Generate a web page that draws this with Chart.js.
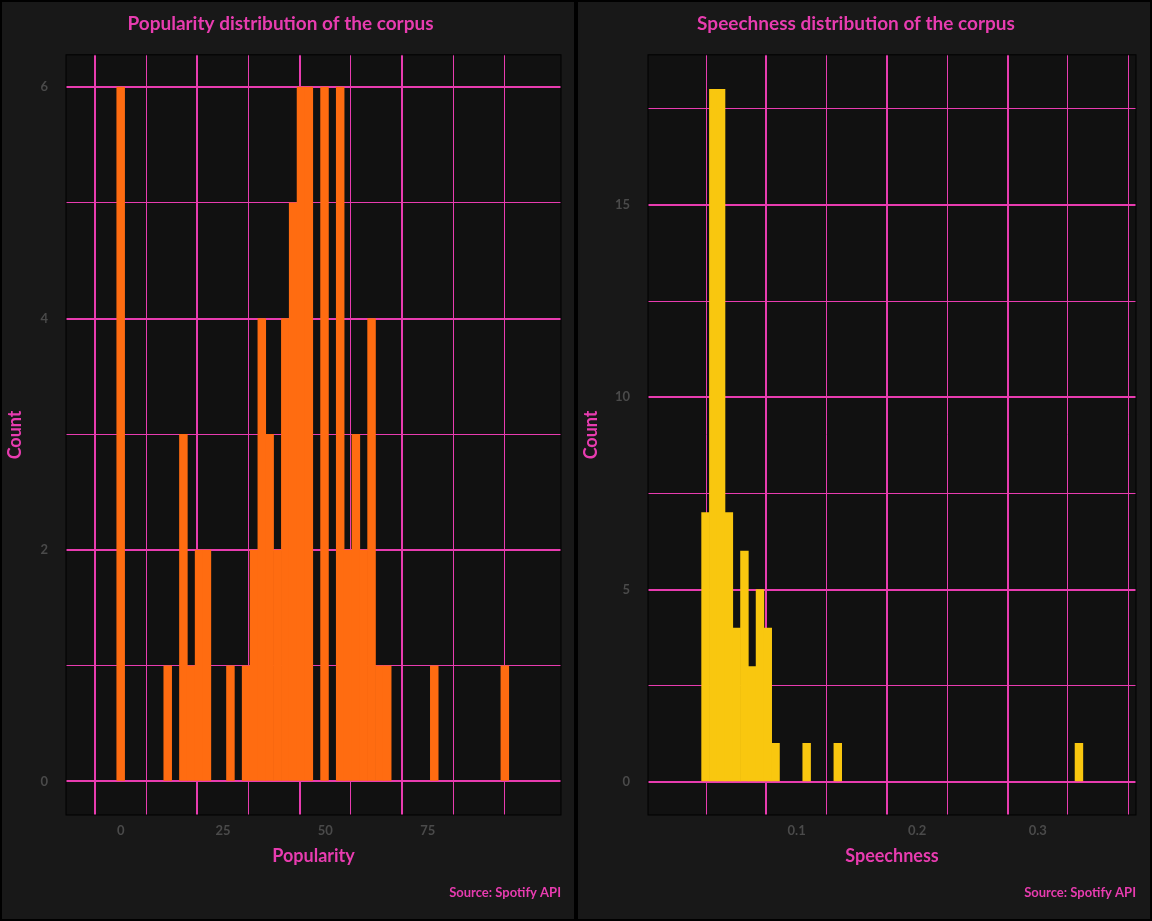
<!DOCTYPE html>
<html>
<head>
<meta charset="utf-8">
<script src="https://cdn.jsdelivr.net/npm/chart.js@4"></script>
<style>
  body { margin: 0; background: #181818; }
  .wrap { display: flex; width: 1152px; height: 921px; }
  .cell { width: 576px; height: 921px; position: relative; }
</style>
</head>
<body>
<div class="wrap">
  <div class="cell"><canvas id="chart-pop" width="576" height="921"></canvas></div>
  <div class="cell"><canvas id="chart-speech" width="576" height="921"></canvas></div>
</div>
<script>
// popularity histogram: bin index -> count (bin width ~1.915, first bin centred on 0)
const popBinWidth = 1.915;
const popBins = [0, 6, 8, 9, 10, 11, 14, 16, 17, 18, 19, 20, 21, 22, 23, 24, 26, 28, 29, 30, 31, 32, 33, 34, 40, 49];
const popCounts = [6, 1, 3, 1, 2, 2, 1, 1, 2, 4, 3, 2, 4, 5, 6, 6, 6, 6, 2, 3, 2, 4, 1, 1, 1, 1];

// speechiness histogram
const spStart = 0.0245;
const spBinWidth = 0.00645;
const spBins = [0, 1, 2, 3, 4, 5, 6, 7, 8, 9, 13, 17, 48];
const spCounts = [7, 18, 18, 7, 4, 6, 3, 5, 4, 1, 1, 1, 1];

const PINK = "#e83cb0";
const GRAY = "#4a4a4a";
const FONT = "Lato";

const frame = {
    id: "frame",
    beforeDraw(chart) {
        const { ctx, chartArea: a } = chart;
        ctx.save();
        ctx.fillStyle = "#181818";
        ctx.fillRect(0, 0, chart.width, chart.height);
        ctx.strokeStyle = "#000";
        ctx.lineWidth = 2;
        ctx.strokeRect(1, 1, chart.width - 2, chart.height - 2);
        ctx.fillStyle = "#111111";
        ctx.fillRect(a.left, a.top, a.right - a.left, a.bottom - a.top);
        ctx.restore();
    },
    afterDraw(chart) {
        const { ctx, chartArea: a } = chart;
        ctx.save();
        ctx.strokeStyle = "#000";
        ctx.lineWidth = 1;
        ctx.strokeRect(a.left, a.top, a.right - a.left, a.bottom - a.top);
        ctx.fillStyle = PINK;
        ctx.font = "bold 13px " + FONT;
        ctx.textAlign = "right";
        ctx.textBaseline = "middle";
        ctx.fillText("Source: Spotify API", a.right, 893);
        ctx.restore();
    },
};

function ticksOf(values) {
    return (scale) => { scale.ticks = values.map((v) => ({ value: v })); };
}

function makeChart(id, opts) {
    new Chart(document.getElementById(id), {
        type: "bar",
        data: {
            datasets: [{
                data: opts.points,
                backgroundColor: opts.color,
                barPercentage: 1,
                categoryPercentage: 1,
                grouped: false,
            }],
        },
        options: {
            responsive: false,
            animation: false,
            devicePixelRatio: 1,
            layout: { padding: { left: 0, right: opts.padRight, top: 0, bottom: 50 } },
            plugins: {
                legend: { display: false },
                tooltip: { enabled: false },
                title: {
                    display: true,
                    text: opts.title,
                    color: PINK,
                    font: { family: FONT, size: 19, weight: "bold" },
                    padding: { top: 12, bottom: 20 },
                },
            },
            scales: {
                x: {
                    type: "linear",
                    min: opts.xMin, max: opts.xMax,
                    afterBuildTicks: ticksOf(opts.xTicks),
                    afterFit: (s) => { s.height = 56; },
                    border: { display: false },
                    grid: {
                        color: PINK,
                        drawTicks: false,
                        lineWidth: (c) => (c.tick && opts.xMajor(c.tick.value) ? 2 : 1),
                    },
                    ticks: {
                        color: GRAY,
                        padding: 8,
                        autoSkip: false,
                        maxRotation: 0,
                        font: { family: FONT, size: 13, weight: "bold" },
                        callback: (v) => (opts.xMajor(v) ? opts.xFmt(v) : ""),
                    },
                    title: {
                        display: true,
                        text: opts.xTitle,
                        color: PINK,
                        font: { family: FONT, size: 18, weight: "bold" },
                        padding: { top: 4 },
                    },
                },
                y: {
                    min: opts.yMin, max: opts.yMax,
                    afterBuildTicks: ticksOf(opts.yTicks),
                    afterFit: (s) => { s.width = opts.yWidth; },
                    border: { display: false },
                    grid: {
                        color: PINK,
                        drawTicks: false,
                        lineWidth: (c) => (c.tick && opts.yMajor(c.tick.value) ? 2 : 1),
                    },
                    ticks: {
                        color: GRAY,
                        padding: 18,
                        autoSkip: false,
                        font: { family: FONT, size: 13, weight: "bold" },
                        callback: (v) => (opts.yMajor(v) ? String(v) : ""),
                    },
                    title: {
                        display: true,
                        text: "Count",
                        color: PINK,
                        font: { family: FONT, size: 18, weight: "bold" },
                        padding: { bottom: 4 },
                    },
                },
            },
        },
        plugins: [frame],
    });
}

const near = (v, step) => Math.abs(v / step - Math.round(v / step)) < 1e-6;

makeChart("chart-pop", {
    title: "Popularity distribution of the corpus",
    xTitle: "Popularity",
    color: "#ff6c11",
    points: popBins.map((k, i) => ({ x: k * popBinWidth, y: popCounts[i] })),
    xMin: -5.8, xMax: 100,
    xTicks: [0, 12.5, 25, 37.5, 50, 62.5, 75, 87.5],
    xMajor: (v) => near(v, 25),
    xFmt: (v) => String(v),
    yMin: -0.29, yMax: 6.28,
    yTicks: [0, 1, 2, 3, 4, 5, 6],
    yMajor: (v) => near(v, 2),
    yWidth: 66,
    padRight: 15,
});

makeChart("chart-speech", {
    title: "Speechness distribution of the corpus",
    xTitle: "Speechness",
    color: "#f9c70f",
    points: spBins.map((k, i) => ({ x: spStart + k * spBinWidth, y: spCounts[i] })),
    xMin: 0.0057, xMax: 0.3525,
    xTicks: [0.05, 0.1, 0.15, 0.2, 0.25, 0.3, 0.35],
    xMajor: (v) => near(v, 0.1),
    xFmt: (v) => v.toFixed(1),
    yMin: -0.86, yMax: 18.9,
    yTicks: [0, 2.5, 5, 7.5, 10, 12.5, 15, 17.5],
    yMajor: (v) => near(v, 5),
    yWidth: 72,
    padRight: 16,
});
</script>
</body>
</html>
